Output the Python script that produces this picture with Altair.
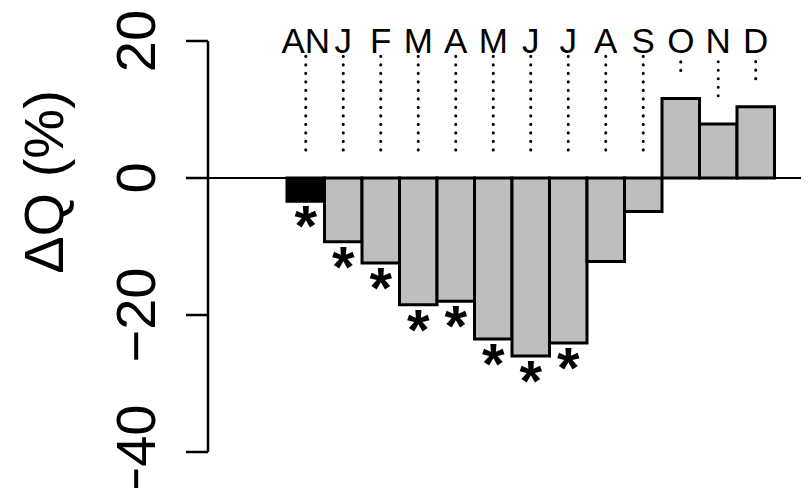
import altair as alt
import pandas as pd

# ---- data ----
labels = ["AN", "J", "F", "M", "A", "M", "J", "J", "A", "S", "O", "N", "D"]
values = [-3.4, -9.3, -12.4, -18.5, -18.0, -23.5, -26.0, -24.1, -12.2, -4.9, 11.6, 7.9, 10.4]
significant = [True, True, True, True, True, True, True, True, False, False, False, False, False]
bar_kind = ["annual"] + ["month"] * 12
y_ticks = [-40, -20, 0, 20]

df = pd.DataFrame({"label": labels, "value": values, "sig": significant, "kind": bar_kind})
df["i"] = list(range(len(df)))
df["i2"] = df["i"] + 1
df["mid"] = df["i"] + 0.5
df["dot_bottom"] = df["value"].clip(lower=0) + 4.1
df["dot_top"] = 17.9
df["label_y"] = 18.25
df["star_y"] = df["value"] - 2.63

FONT = "Liberation Sans"

xscale = alt.Scale(domain=[-2.1067, 13.7067], nice=False, zero=False)
yscale = alt.Scale(domain=[-40, 20], nice=False, zero=False)
yaxis = alt.Axis(
    values=y_ticks,
    title="ΔQ (%)",
    titleFont=FONT, titleFontSize=56, titleFontWeight="normal", titleColor="black",
    titleAngle=270, titleAlign="center", titleBaseline="alphabetic",
    titleX=-145, titleY=141,
    labelFont=FONT, labelFontSize=56, labelColor="black",
    labelAngle=270, labelAlign="center", labelBaseline="alphabetic",
    labelPadding=31, labelOverlap=False,
    labelExpr="replace(format(datum.value, 'd'), '-', '\u2212')",
    tickSize=22, tickWidth=2.5, tickColor="black",
    domainWidth=2.5, domainColor="black", grid=False, translate=0,
)

zero = alt.Chart(pd.DataFrame({"z": [0]})).mark_rule(color="black", strokeWidth=2).encode(
    y=alt.Y("z:Q", scale=yscale, axis=yaxis)
)

bars = alt.Chart(df).mark_rect(stroke="black", strokeWidth=3).encode(
    x=alt.X("i:Q", scale=xscale, axis=None),
    x2="i2",
    y=alt.Y("value:Q", scale=yscale, axis=yaxis),
    y2=alt.datum(0),
    color=alt.Color("kind:N", scale=alt.Scale(domain=["annual", "month"], range=["black", "#bebebe"]), legend=None),
)

dots = alt.Chart(df).mark_rule(
    color="black", strokeWidth=3, strokeCap="round", strokeDash=[0.1, 8.4]
).encode(
    x=alt.X("mid:Q", scale=xscale, axis=None),
    y=alt.Y("dot_bottom:Q", scale=yscale, axis=yaxis),
    y2="dot_top",
)

top_labels = alt.Chart(df).mark_text(
    font=FONT, fontSize=35, align="center", baseline="alphabetic", color="black"
).encode(
    x=alt.X("mid:Q", scale=xscale, axis=None),
    y=alt.Y("label_y:Q", scale=yscale, axis=yaxis),
    text="label:N",
)

stars = alt.Chart(df).transform_filter("datum.sig").mark_text(
    font=FONT, fontSize=58, fontWeight="bold", align="center", baseline="alphabetic",
    dy=27, color="black", text="*"
).encode(
    x=alt.X("mid:Q", scale=xscale, axis=None),
    y=alt.Y("star_y:Q", scale=yscale, axis=yaxis),
)

chart = alt.layer(zero, bars, dots, top_labels, stars).properties(
    width=593, height=411,
    background="white",
    autosize=alt.AutoSizeParams(type="none"),
    padding={"left": 200, "top": 33, "right": 0, "bottom": 36},
).configure_view(stroke=None)

chart.save("out.html", embed_options={"renderer": "svg", "actions": False})
